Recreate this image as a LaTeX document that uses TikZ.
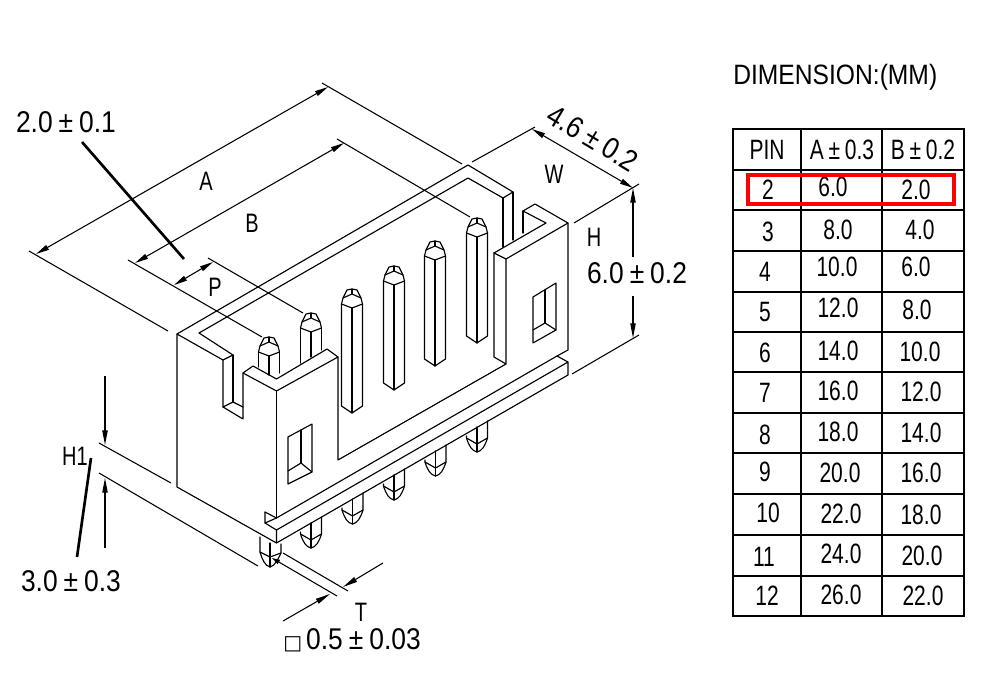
\documentclass[tikz,border=0pt]{standalone}
\usepackage{fontspec}
\usetikzlibrary{arrows.meta}
\setmainfont[FakeStretch=0.75]{Liberation Sans}
\newfontfamily\wideform[FakeStretch=0.88]{Liberation Sans}
\newfontfamily\symfont{DejaVu Sans}
\newcommand{\pmgap}{\hspace{4.5pt}±\hspace{4.5pt}}
\tikzset{
  part/.style={line width=0.85pt,line join=round,line cap=round},
  dim/.style={line width=0.8pt},
  arr/.style={dim,-{Triangle[length=11pt,width=4pt]}},
  arrboth/.style={dim,{Triangle[length=10pt,width=4pt]}-{Triangle[length=10pt,width=4pt]}},
  leader/.style={line width=2pt},
  grid/.style={line width=1.1pt,line cap=rect},
  redbox/.style={draw=red,line width=2.3pt},
  lbl/.style={inner sep=0pt,font=\fontsize{20pt}{24pt}\selectfont},
  big/.style={inner sep=0pt,font=\wideform\fontsize{22.5pt}{26pt}\selectfont},
  cell/.style={inner sep=0pt,font=\fontsize{21pt}{25pt}\selectfont},
  titletext/.style={inner sep=0pt,font=\wideform\fontsize{21pt}{25pt}\selectfont}
}
\newcommand{\pincap}[2]{%
  \draw[part] (#1-10.5,#2-4) -- (#1-9,#2-10) -- (#1-5,#2-18) -- (#1,#2-19) -- (#1+5,#2-18) -- (#1+9,#2-10) -- (#1+10.5,#2-4);
  \draw[part] (#1-9,#2-10) -- (#1,#2-14) -- (#1+9,#2-10);
  \draw[part] (#1,#2-14) -- (#1,#2-19);
  \draw[part] (#1-10.5,#2-4) -- (#1,#2) -- (#1+10.5,#2-4);
}
\newcommand{\fullpin}[3]{%
  \pincap{#1}{#2}
  \draw[part] (#1-10.5,#2-4) -- (#1-10.5,#3-7) -- (#1,#3) -- (#1+10.5,#3-7) -- (#1+10.5,#2-4);
  \draw[part] (#1,#2) -- (#1,#3);
}
\newcommand{\botpin}[2]{%
  \draw[part] (#1-10.5,#2-16) -- (#1-10.5,#2-14) .. controls (#1-8,#2-6) and (#1-5,#2-1) .. (#1,#2)
     .. controls (#1+5,#2-1) and (#1+8,#2-6) .. (#1+10.5,#2-14) -- (#1+10.5,#2-31);
  \draw[part] (#1-10.5,#2-14) -- (#1,#2-8) -- (#1+10.5,#2-14);
  \draw[part] (#1,#2-25) -- (#1,#2);
}
\begin{document}
\begin{tikzpicture}[x=0.75pt,y=-0.75pt]
\useasboundingbox (0,0) rectangle (1000,700);
\fill[white] (0,0) rectangle (1000,700);

% body: back top edges and near wall
\draw[part] (199,333) -- (468,178) -- (503,198) -- (513,192) -- (468,165) -- (177,334) -- (177,487) -- (276.5,543);
\draw[part] (177,334) -- (223,360) -- (233,355) -- (199,333);
\draw[part] (223,360) -- (223,407) -- (243,419) -- (243,373) -- (253,366) -- (276.5,379) -- (327,349) -- (338,357) -- (338,460) -- (506,364);
\draw[part] (223,407) -- (233,402) -- (243,407);
\draw[part] (233,355) -- (233,402);
\draw[part] (243,373) -- (276.5,391) -- (338,357);
\draw[part] (276.5,391) -- (276.5,518);
% far wall
\draw[part] (503,198) -- (503,247);
\draw[part] (513,192) -- (513,240);
\draw[part] (494,253) -- (546,223) -- (523,211) -- (535,204) -- (568,223) -- (568,350) -- (557,356);
\draw[part] (523,211) -- (523,233);
\draw[part] (494,253) -- (506,259) -- (568,223);
\draw[part] (494,253) -- (494,357) -- (506,364) -- (506,259);
% flange
\draw[part] (265,512) -- (276.5,518) -- (557,356) -- (568,362) -- (568,375) -- (276.5,543) -- (276.5,530) -- (568,362);
\draw[part] (265,512) -- (265,523) -- (276.5,530);
\draw[part] (265,523) -- (276.5,518);
% windows
\draw[part] (288,437) -- (312,424) -- (312,472) -- (288,484) -- cycle;
\draw[part] (288,471) -- (301,463) -- (312,472);
\draw[part] (301,430) -- (301,463);
\draw[part] (533,297) -- (556,283) -- (556,330) -- (533,343) -- cycle;
\draw[part] (533,330) -- (545,323) -- (556,330);
\draw[part] (545,290) -- (545,323);

% top pins
\fullpin{477}{237}{343}
\fullpin{435}{260}{366}
\fullpin{394}{285}{390}
\fullpin{352}{308}{413}
\pincap{311}{332}
\draw[part] (300.5,328) -- (300.5,363);
\draw[part] (311,332) -- (311,357);
\draw[part] (321.5,328) -- (321.5,350);
\pincap{269}{356}
\draw[part] (258.5,352) -- (258.5,367);
\draw[part] (269,356) -- (269,375);
\draw[part] (279.5,352) -- (279.5,373);

% bottom pins
\botpin{311}{548}
\botpin{352.5}{524}
\botpin{394}{500}
\botpin{435.5}{476}
\botpin{477}{452}
\draw[part] (260,537) -- (260,552) .. controls (262,559) and (265,566) .. (270,567) .. controls (275,566) and (278,559) .. (281,553) -- (281,544);
\draw[part] (260,552) -- (270,557) -- (281,553);
\draw[part] (270,543) -- (270,567);

% dimension A
\draw[arrboth] (36,254) -- (328,87);
\draw[dim] (29,251) -- (168,331);
\draw[dim] (322,83) -- (462,164);
% dimension B
\draw[arrboth] (135,263) -- (344,143);
\draw[dim] (128,260) -- (262,337);
\draw[dim] (337,139) -- (470,217);
% dimension P
\draw[arrboth] (174,285) -- (213,262);
\draw[dim] (208,258) -- (303,313);
% dimension W
\draw[arrboth] (532,129) -- (633,188);
\draw[dim] (472,162) -- (535,127);
\draw[dim] (574,223) -- (639,184);
% dimension H
\draw[arr] (633,257) -- (633,188);
\draw[arr] (633,296) -- (633,338);
\draw[dim] (572,374) -- (639,335);
% dimension H1
\draw[arr] (105,376) -- (105,445);
\draw[arr] (105,548) -- (105,478);
\draw[dim] (99,443) -- (171,483);
\draw[dim] (99,473) -- (258,566);
% dimension T
\draw[arr] (383,563) -- (343,587);
\draw[arr] (283,621) -- (330,594);
\draw[dim] (283,553) -- (348,591);
\draw[dim,-{Triangle[length=6pt,width=3.5pt]}] (337,596) -- (272,558);
% leaders
\draw[leader] (82,142) -- (184,259);
\draw[leader] (91,458) -- (77,557);

% labels
\node[big] (l20) at (66,122) {2.0\pmgap 0.1};
\node[lbl] (la) at (206,181) {A};
\node[lbl] (lb) at (252,223) {B};
\node[lbl] (lp) at (215,287) {P};
\node[big,rotate=-31] (l46) at (593,138) {4.6\pmgap 0.2};
\node[lbl] (lw) at (554,174) {W};
\node[lbl] (lh) at (594,237) {H};
\node[big] (l60) at (637,273) {6.0\pmgap 0.2};
\node[lbl] (lh1) at (75,456) {H1};
\node[big] (l30) at (71,581) {3.0\pmgap 0.3};
\node[lbl] (lt) at (361,612) {T};
\node[big] (l05) at (352,640) {{\symfont\fontsize{15pt}{18pt}\selectfont □}\hspace{3pt}0.5\pmgap 0.03};

% table
\node[titletext,anchor=west] (ltitle) at (733,77) {DIMENSION:(MM)};
\draw[grid] (733,129) rectangle (964,616);
\foreach \y in {170,210,251,292,332,372,413,453,494,535,576}
  \draw[grid] (733,\y) -- (964,\y);
\foreach \x in {801,882}
  \draw[grid] (\x,129) -- (\x,616);
\foreach \t/\x/\y [count=\i] in {
  PIN/767/150, A\,±\,0.3/842/150, B\,±\,0.2/923/150,
  2/768/190, 6.0/833/187, 2.0/916/190,
  3/768/232, 8.0/838/230, 4.0/920/230,
  4/765/272, 10.0/837/267, 6.0/916/267,
  5/765/312, 12.0/838/308, 8.0/917/310,
  6/765/353, 14.0/838/351, 10.0/920/352,
  7/765/393, 16.0/838/391, 12.0/921/392,
  8/765/435, 18.0/838/432, 14.0/921/433,
  9/765/472, 20.0/840/473, 16.0/921/473,
  10/768/513, 22.0/841/514, 18.0/921/515,
  11/764/557, 24.0/841/554, 20.0/922/556,
  12/767/596, 26.0/841/595, 22.0/923/596}
  \node[cell] (t\i) at (\x,\y) {\t};
\draw[redbox] (748,175) rectangle (954,204);
\end{tikzpicture}
\end{document}
